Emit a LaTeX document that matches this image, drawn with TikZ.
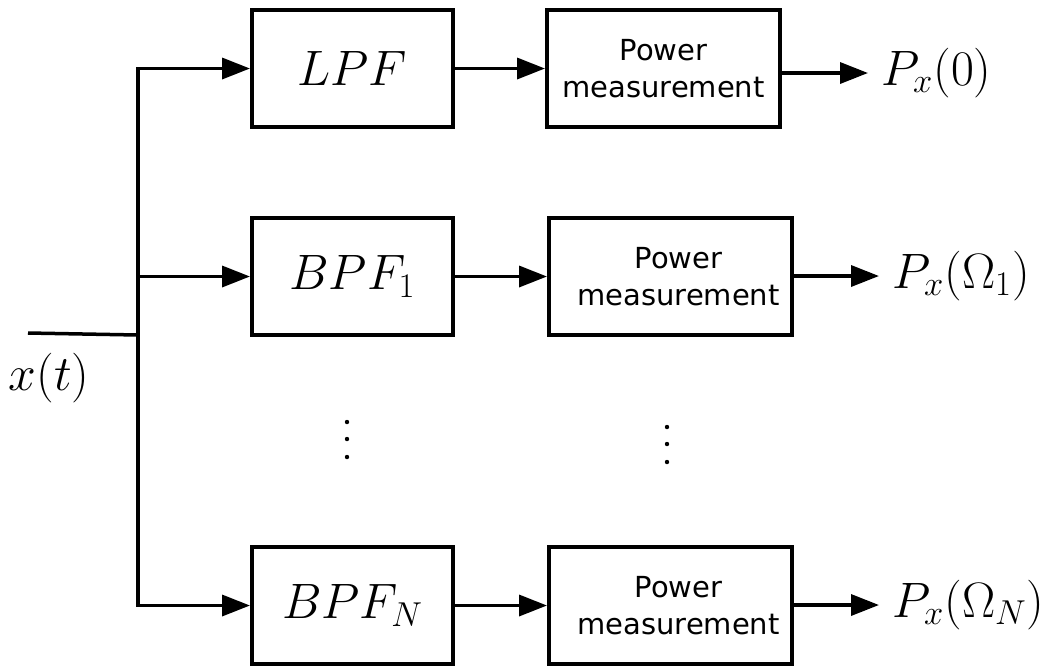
\documentclass[tikz,border=0pt]{standalone}
\usepackage{fontspec}
\newfontfamily\pmfont{DejaVu Sans}
\usetikzlibrary{arrows.meta}
\begin{document}
\begin{tikzpicture}[x=0.5pt,y=-0.5pt,
  line width=1.75pt,
  mathtxt/.style={font=\fontsize{23.5}{28}\selectfont},
  blk/.style={draw, line width=2pt, minimum height=58.5pt, inner sep=0pt, mathtxt},
  filt/.style={blk, minimum width=100.5pt},
  pm/.style={blk, align=center, font=\pmfont\fontsize{14.5}{18.5}\selectfont},
  outlbl/.style={anchor=west, inner xsep=6pt, inner ysep=0pt, mathtxt},
  arr/.style={-{Triangle[length=14pt,width=10.5pt]}},
  dot/.style={fill=black}
]
\useasboundingbox (0,0) rectangle (1045,666);

% filter boxes
\node[filt] (lpf)  at (352.5,68.5)  {$LPF$};
\node[filt] (bpf1) at (352.5,276.5) {$BPF_1$};
\node[filt] (bpfN) at (352.5,605.5) {$BPF_N$};

% power measurement boxes
\node[pm, minimum width=116.5pt] (pm1) at (663.5,68.5) {Power\\measurement};
\node[pm, minimum width=121.5pt] (pm2) at (670.5,276.5) {\hspace*{8pt}Power\\\hspace*{8pt}measurement};
\node[pm, minimum width=121.5pt] (pm3) at (670.5,605.5) {\hspace*{8pt}Power\\\hspace*{8pt}measurement};

% output labels
\node[outlbl] (o1) at (868,73)  {$P_x(0)$};
\node[outlbl] (o2) at (879,276) {$P_x(\Omega_1)$};
\node[outlbl] (o3) at (879,605) {$P_x(\Omega_N)$};

% input
\coordinate (in) at (28,333);
\coordinate (split) at (138,335);
\node[mathtxt, inner sep=0pt] (xt) at (49,378) {$x(t)$};

\draw (in) -- (split);
\draw[arr] (split) |- (lpf.west);
\draw[arr] (split) |- (bpf1.west);
\draw[arr] (split) |- (bpfN.west);

\draw[arr] (lpf.east) -- (pm1.west);
\draw[arr] (bpf1.east) -- (pm2.west);
\draw[arr] (bpfN.east) -- (pm3.west);

\draw[arr] (pm1.east |- o1.west) -- (o1.west);
\draw[arr] (pm2.east |- o2.west) -- (o2.west);
\draw[arr] (pm3.east |- o3.west) -- (o3.west);

% vertical dots
\foreach \yy in {422,439,457} \fill[dot] (347,\yy) circle (1.1pt);
\foreach \yy in {427,444,462} \fill[dot] (667,\yy) circle (1.1pt);
\end{tikzpicture}
\end{document}
